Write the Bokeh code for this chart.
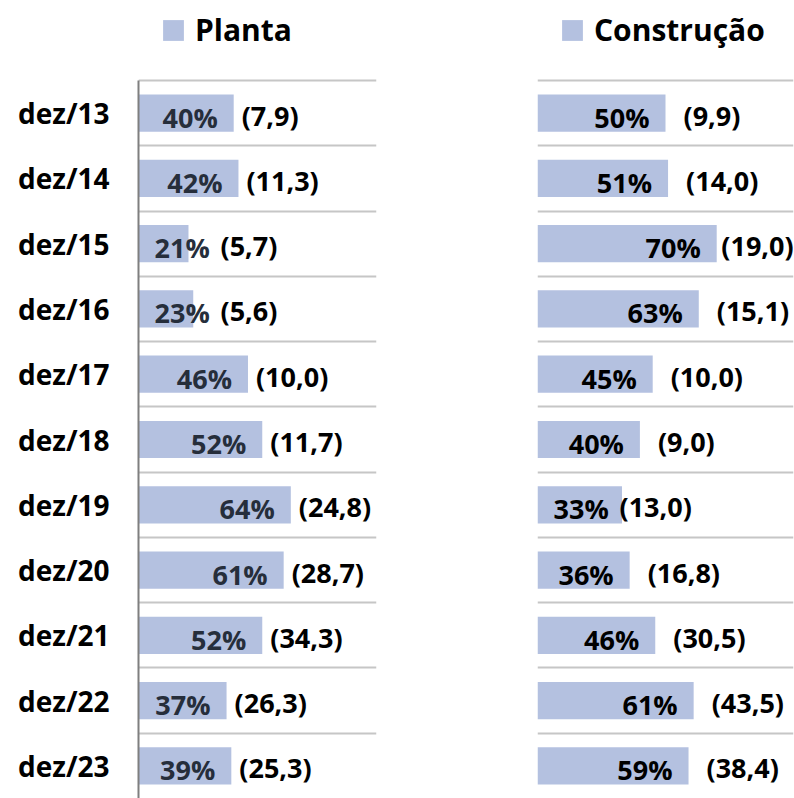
import numpy as np
from bokeh.plotting import figure
from bokeh.models import (ColumnDataSource, FixedTicker, Legend, LegendItem,
                          LabelSet, Range1d)
from bokeh.core.properties import value
from bokeh.layouts import row
from bokeh.embed import file_html
from bokeh.resources import INLINE

# ---- data ----
periods = ["dez/13", "dez/14", "dez/15", "dez/16", "dez/17", "dez/18",
           "dez/19", "dez/20", "dez/21", "dez/22", "dez/23"]
planta_pct = [40, 42, 21, 23, 46, 52, 64, 61, 52, 37, 39]
planta_val = ["(7,9)", "(11,3)", "(5,7)", "(5,6)", "(10,0)", "(11,7)",
              "(24,8)", "(28,7)", "(34,3)", "(26,3)", "(25,3)"]
constr_pct = [50, 51, 70, 63, 45, 40, 33, 36, 46, 61, 59]
constr_val = ["(9,9)", "(14,0)", "(19,0)", "(15,1)", "(10,0)", "(9,0)",
              "(13,0)", "(16,8)", "(30,5)", "(43,5)", "(38,4)"]

FONT = "Open Sans"
BAR = "#b4c1e0"
H = 798          # figure height
TOP = 80         # space above first band (legend lives here)
n = len(periods)
centers = list(np.arange(n) + 0.5)


def panel(name, pcts, vals, width, left_border, right_border, pct_color,
          val_gap, show_axis):
    frame_w = width - left_border - right_border
    px = frame_w / 100.0
    pad = 16
    txt_w = 54
    pct_x, pct_off, pct_align, val_off = [], [], [], []
    for v, s in zip(pcts, vals):
        bar_px = v * px
        lab_w = 11.7 * len(s)
        if bar_px - pad - txt_w >= pad:
            pct_x.append(v); pct_off.append(-pad); pct_align.append("right")
            off = val_gap
        else:
            pct_x.append(0); pct_off.append(pad); pct_align.append("left")
            off = pad + txt_w - bar_px + 12
        off = min(off, frame_w - bar_px - lab_w - 2)
        val_off.append(off)
    src = ColumnDataSource(dict(y=centers, v=pcts, pct=[f"{p}%" for p in pcts],
                                val=vals, pct_x=pct_x, pct_off=pct_off,
                                pct_align=pct_align, val_off=val_off))
    band_px = (H - TOP) / n
    y_top = -TOP / band_px
    p = figure(width=width, height=H, output_backend="svg",
               toolbar_location=None, title=None,
               x_range=Range1d(0, 100), y_range=Range1d(n, y_top),
               x_axis_location=None,
               y_axis_location="left" if show_axis else None,
               min_border_left=left_border, min_border_right=right_border,
               min_border_top=0, min_border_bottom=0)
    p.outline_line_color = None
    p.xgrid.visible = False
    p.ygrid.ticker = FixedTicker(ticks=list(range(0, n)))
    p.ygrid.grid_line_color = "#c6c6c6"
    p.ygrid.grid_line_width = 2
    r = p.hbar(y="y", left=0, right="v", height=0.57, source=src,
               fill_color=BAR, line_color=None)
    p.add_layout(LabelSet(x="pct_x", y="y", text="pct", source=src,
                          x_offset="pct_off", text_align="pct_align",
                          text_baseline="middle", text_font=value(FONT),
                          text_font_style="bold", text_font_size="27px",
                          text_color=pct_color, y_offset=-4))
    p.add_layout(LabelSet(x="v", y="y", text="val", source=src,
                          x_offset="val_off", text_align="left",
                          text_baseline="middle", text_font=value(FONT),
                          text_font_style="bold", text_font_size="27px",
                          text_color="#000000", y_offset=-2))
    if show_axis:
        ax = p.yaxis[0]
        ax.bounds = (0, n)
        ax.ticker = FixedTicker(ticks=centers)
        ax.major_label_overrides = {c: lab for c, lab in zip(centers, periods)}
        ax.major_tick_line_color = None
        ax.minor_tick_line_color = None
        ax.major_label_standoff = 23
        ax.axis_line_color = "#7f7f7f"
        ax.axis_line_width = 2
        ax.major_label_text_font = FONT
        ax.major_label_text_font_style = "bold"
        ax.major_label_text_font_size = "28px"
        ax.major_label_text_color = "#000000"
    leg = Legend(items=[LegendItem(label=name, renderers=[r])],
                 location=(22, H - 50), orientation="horizontal",
                 padding=0, margin=0, border_line_alpha=0,
                 background_fill_alpha=0, glyph_width=26, glyph_height=26,
                 label_standoff=9, label_text_font=FONT,
                 label_text_font_style="bold", label_text_font_size="30px",
                 label_text_color="#000000")
    p.add_layout(leg)
    return p


p1 = panel("Planta", planta_pct, planta_val, 440, 138, 64, "#262e3b", 8, True)
p2 = panel("Construção", constr_pct, constr_val, 354, 97, 1, "#000000", 18, False)
layout = row(p1, p2)
open("out.html", "w").write(file_html(layout, INLINE))
